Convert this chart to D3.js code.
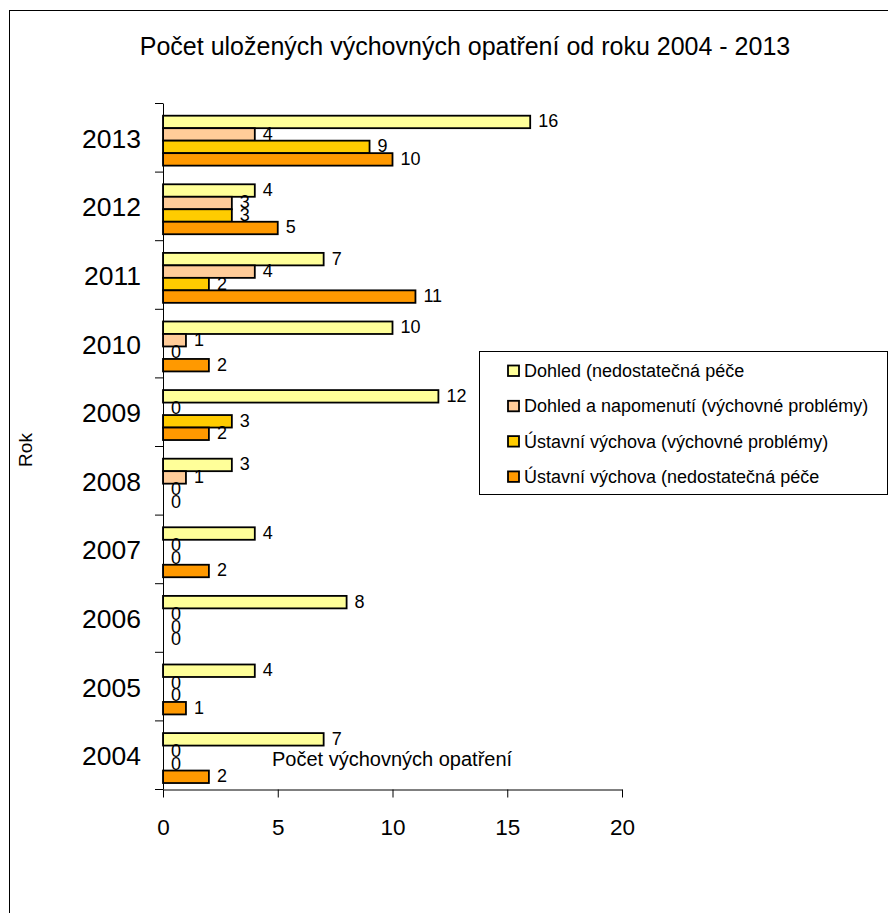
<!DOCTYPE html>
<html>
<head>
<meta charset="utf-8">
<script src="https://cdn.jsdelivr.net/npm/d3@7"></script>
<style>
body { margin: 0; background: #fff; }
text { font-family: "Liberation Sans", Arial, sans-serif; fill: #000; }
</style>
</head>
<body>
<svg id="chart" width="888" height="913"></svg>
<script>
// years shown top to bottom
var years = ['2013', '2012', '2011', '2010', '2009', '2008', '2007', '2006', '2005', '2004'];
var seriesNames = [
    'Dohled (nedostatečná péče',
    'Dohled a napomenutí (výchovné problémy)',
    'Ústavní výchova (výchovné problémy)',
    'Ústavní výchova (nedostatečná péče'
];
var colors = ['#FFFF99', '#FFCC99', '#FFCC00', '#FF9900'];
// values in the same order as years
var dohled = [16, 4, 7, 10, 12, 3, 4, 8, 4, 7];
var napomenuti = [4, 3, 4, 1, 0, 1, 0, 0, 0, 0];
var ustavniVychovne = [9, 3, 2, 0, 3, 0, 0, 0, 0, 0];
var ustavniPece = [10, 5, 11, 2, 2, 0, 2, 0, 1, 2];
var xTicks = [0, 5, 10, 15, 20];

var series = [dohled, napomenuti, ustavniVychovne, ustavniPece];

var svg = d3.select('#chart');

// outer frame
svg.append('rect')
    .attr('x', 9.5).attr('y', 10.5)
    .attr('width', 900).attr('height', 930)
    .attr('fill', 'none').attr('stroke', '#000').attr('stroke-width', 1);

svg.append('text')
    .attr('x', 465).attr('y', 55)
    .attr('text-anchor', 'middle')
    .style('font-size', '25px')
    .text('Počet uložených výchovných opatření od roku 2004 - 2013');

var x = d3.scaleLinear().domain([0, 20]).range([163, 622]);
var y = d3.scaleBand().domain(years).range([103, 789]);
var bh = y.bandwidth() * 0.182;
var off = y.bandwidth() * 0.185;

var g = svg.append('g');

years.forEach(function (yr, i) {
    series.forEach(function (s, k) {
        var v = s[i];
        var top = y(yr) + off + k * bh;
        if (v > 0) {
            g.append('rect')
                .attr('x', x(0)).attr('y', top)
                .attr('width', x(v) - x(0)).attr('height', bh)
                .attr('fill', colors[k])
                .attr('stroke', '#000').attr('stroke-width', 1.8);
        }
        g.append('text')
            .attr('x', x(v) + 8)
            .attr('y', top + bh / 2 - 1)
            .attr('dy', '0.36em')
            .style('font-size', '18px')
            .text(v);
    });
});

// y axis
var yAxis = svg.append('g')
    .attr('transform', 'translate(163,0)')
    .call(d3.axisLeft(y).tickValues([]).tickSizeOuter(0));
yAxis.select('.domain').attr('stroke', '#000');
var bounds = y.domain().map(function (d) { return y(d); }).concat([789]);
svg.selectAll('.ytick').data(bounds).enter().append('line')
    .attr('x1', 155).attr('x2', 163)
    .attr('y1', function (d) { return d + 0.5; })
    .attr('y2', function (d) { return d + 0.5; })
    .attr('stroke', '#000');
svg.selectAll('.ylab').data(years).enter().append('text')
    .attr('x', 141)
    .attr('y', function (d) { return y(d) + y.bandwidth() / 2 + 1; })
    .attr('dy', '0.36em')
    .attr('text-anchor', 'end')
    .style('font-size', '26.5px')
    .text(function (d) { return d; });

// x axis
var xAxis = svg.append('g')
    .attr('transform', 'translate(0,789.5)')
    .call(d3.axisBottom(x).tickValues(xTicks).tickSize(8).tickSizeOuter(0).tickPadding(22));
xAxis.select('.domain').attr('stroke', '#000');
xAxis.selectAll('line').attr('stroke', '#000');
xAxis.selectAll('text')
    .style('font-size', '22.5px')
    .style('font-family', '"Liberation Sans", Arial, sans-serif');
svg.append('line')
    .attr('x1', 155).attr('x2', 163)
    .attr('y1', 789.5).attr('y2', 789.5)
    .attr('stroke', '#000');

svg.append('text')
    .attr('x', 272).attr('y', 766)
    .style('font-size', '20px')
    .text('Počet výchovných opatření');

svg.append('text')
    .attr('transform', 'translate(32,450) rotate(-90)')
    .attr('text-anchor', 'middle')
    .style('font-size', '19px')
    .text('Rok');

// legend
var lg = svg.append('g');
lg.append('rect')
    .attr('x', 479.5).attr('y', 351.5)
    .attr('width', 408).attr('height', 143)
    .attr('fill', '#fff').attr('stroke', '#000');
seriesNames.forEach(function (name, k) {
    var ly = 370.5 + k * 35.3;
    lg.append('rect')
        .attr('x', 508).attr('y', ly - 5)
        .attr('width', 11).attr('height', 10.5)
        .attr('fill', colors[k]).attr('stroke', '#000').attr('stroke-width', 1.8);
    lg.append('text')
        .attr('x', 524).attr('y', ly)
        .attr('dy', '0.36em')
        .style('font-size', '18px')
        .text(name);
});
</script>
</body>
</html>
